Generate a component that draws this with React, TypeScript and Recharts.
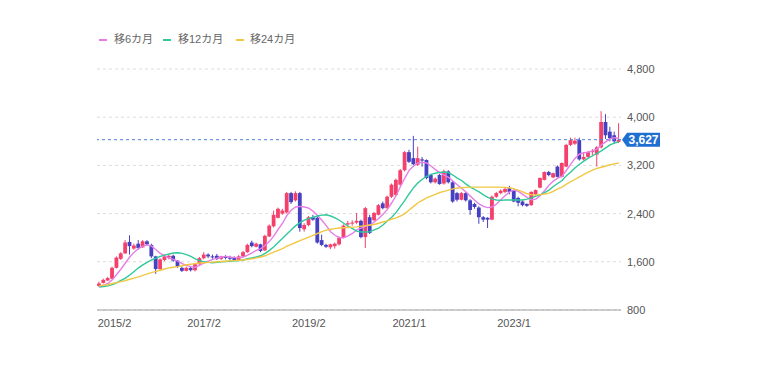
import React from 'react';
import { ComposedChart, Bar, Line, XAxis, YAxis, CartesianGrid, ReferenceLine } from 'recharts';

const startYear = 2015;
const startMonth = 2;

const opens = [
  1200,1250,1290,1320,1500,1650,1740,1930,1820,1900,1840,1940,1880,1690,1480,1630,1670,1700,1620,1500,1450,1500,1460,1560,
  1660,1720,1690,1700,1650,1680,1670,1670,1630,1690,1760,1920,1850,1890,1790,2020,2190,2330,2400,2420,2740,2620,2740,2140,2210,2340,
  2330,1960,1880,1840,1860,1890,2000,2220,2240,2250,2280,2010,2340,2290,2380,2570,2490,2680,2710,2880,
  3120,3420,3320,3210,3300,3290,3040,2920,3040,2900,
  3100,2920,2740,2630,2740,2620,2560,2500,2340,2330,
  2300,2680,2740,2760,2820,2780,2660,2600,2560,2540,
  2720,2830,2960,3090,3000,3180,3010,3180,3540,3560,
  3620,3300,3340,3420,3380,3500,3920,3760,3700,3590,
];
const highs = [
  1270,1320,1350,1520,1690,1760,1960,2040,1900,1960,1960,1960,1900,1700,1660,1720,1720,1720,1630,1520,1520,1530,1580,1680,
  1760,1740,1720,1730,1700,1710,1700,1690,1710,1780,1900,1950,1920,1900,2050,2220,2450,2500,2480,2760,2760,2770,2760,2240,2360,2380,
  2350,2050,1900,1900,1920,2020,2220,2280,2290,2410,2300,2510,2380,2430,2560,2600,2700,2900,2980,3140,
  3440,3460,3690,3510,3340,3300,3060,3000,3060,3130,
  3120,2940,2760,2760,2760,2640,2580,2520,2360,2340,
  2700,2760,2800,2830,2860,2800,2680,2620,2570,2770,
  2800,3000,3100,3110,3080,3200,3250,3560,3660,3660,
  3660,3420,3440,3470,3520,4100,4050,3840,3760,3900,
];
const lows = [
  1180,1240,1280,1310,1490,1630,1730,1720,1800,1800,1830,1870,1660,1400,1460,1610,1640,1600,1500,1430,1440,1440,1440,1550,
  1640,1660,1650,1630,1630,1640,1630,1610,1610,1680,1750,1840,1840,1760,1780,2010,2170,2320,2380,2400,2560,2600,2100,2100,2190,2280,
  1900,1860,1830,1810,1820,1870,1990,2190,2200,2230,1990,1830,2060,2270,2370,2470,2480,2660,2690,2860,
  3100,3240,3200,3190,3180,2970,2900,2900,2880,2880,
  2900,2580,2600,2620,2600,2380,2480,2230,2260,2160,
  2290,2660,2720,2740,2720,2590,2520,2520,2510,2530,
  2700,2820,2950,3020,2990,3000,3000,3170,3520,3540,
  3280,3280,3330,3360,3180,3480,3640,3600,3560,3570,
];
const closes = [
  1240,1300,1330,1500,1670,1740,1920,1860,1870,1830,1940,1890,1690,1480,1640,1690,1700,1620,1520,1450,1500,1460,1560,1660,
  1720,1690,1680,1650,1690,1670,1650,1630,1690,1760,1880,1860,1900,1780,2030,2200,2380,2480,2450,2740,2590,2740,2160,2210,2340,2300,
  1920,1880,1850,1890,1900,2000,2200,2240,2250,2280,2010,2490,2080,2410,2540,2490,2680,2880,2960,3120,
  3420,3260,3220,3320,3280,2990,2920,2980,2890,3100,
  2920,2600,2630,2740,2620,2460,2510,2340,2300,2300,
  2680,2740,2780,2810,2760,2600,2580,2540,2530,2760,
  2790,2990,3090,3040,3070,3010,3240,3540,3620,3610,
  3300,3340,3420,3440,3500,3920,3700,3650,3600,3627,
];

const ma6 = [
  1190,1210,1240,1300,1390,1480,1580,1680,1760,1820,1860,1880,1860,1800,1740,1700,1660,1640,1610,1570,1540,1520,1510,1540,
  1580,1610,1640,1660,1680,1690,1680,1670,1670,1680,1710,1750,1790,1820,1870,1940,2030,2140,2240,2370,2460,2510,2520,2510,2490,2440,
  2370,2290,2200,2100,2040,2000,2000,2030,2070,2130,2160,2190,2210,2260,2320,2390,2470,2580,2700,2850,
  2990,3120,3190,3240,3250,3240,3190,3130,3080,3040,
  3000,2940,2880,2820,2760,2690,2620,2560,2520,2500,
  2510,2560,2630,2700,2760,2790,2770,2720,2670,2630,
  2640,2700,2780,2870,2940,2990,3020,3120,3220,3320,
  3390,3410,3420,3440,3470,3540,3590,3640,3660,3650,
];
const ma12 = [
  1180,1190,1200,1220,1250,1290,1330,1380,1440,1500,1550,1590,1630,1660,1690,1710,1730,1745,1750,1740,1720,1690,1650,1620,
  1600,1590,1585,1590,1600,1605,1610,1615,1620,1630,1650,1665,1680,1700,1740,1790,1850,1920,1990,2060,2130,2200,2250,2290,2320,2340,
  2360,2375,2380,2360,2330,2290,2240,2190,2150,2110,2095,2095,2100,2130,2160,2210,2280,2340,2420,2520,
  2620,2730,2830,2910,2970,3020,3050,3070,3085,3090,
  3080,3040,2990,2950,2890,2840,2800,2760,2710,2670,
  2640,2625,2620,2625,2625,2625,2625,2625,2640,2660,
  2690,2710,2750,2790,2850,2900,2950,3030,3090,3160,
  3220,3270,3320,3360,3400,3440,3490,3540,3570,3590,
];
const ma24 = [
  1200,1210,1220,1240,1255,1270,1290,1310,1330,1350,1375,1400,1420,1440,1460,1480,1500,1510,1520,1535,1550,1560,1570,1580,
  1585,1590,1595,1600,1605,1610,1615,1620,1625,1630,1640,1650,1665,1680,1700,1730,1760,1790,1820,1860,1890,1920,1950,1980,2010,2040,
  2070,2100,2125,2140,2150,2160,2165,2170,2175,2180,2190,2200,2210,2220,2240,2260,2280,2310,2330,2360,
  2400,2460,2520,2580,2620,2660,2690,2720,2750,2770,
  2790,2810,2825,2830,2835,2840,2840,2840,2840,2840,
  2840,2840,2840,2835,2830,2810,2790,2760,2730,2710,
  2710,2715,2725,2740,2770,2810,2840,2890,2930,2970,
  3010,3050,3090,3120,3150,3170,3190,3210,3225,3240,
];

const xTickLabels = ['2015/2', '2017/2', '2019/2', '2021/1', '2023/1'];
const yTicks = [800, 1600, 2400, 3200, 4000, 4800];
const lastPrice = 3627;
const seriesNames = ['移6カ月', '移12カ月', '移24カ月'];

const UP = '#f4406a';
const DOWN = '#4640c2';
const MA_COLORS = ['#e57ee6', '#2fc99a', '#f2c744'];
const FONT = '"Liberation Sans", "Noto Sans CJK JP", Arial, sans-serif';

const months = opens.map((_, i) => {
  const m = startMonth - 1 + i;
  return `${startYear + Math.floor(m / 12)}/${(m % 12) + 1}`;
});

const data = months.map((month, i) => ({
  month,
  open: opens[i],
  high: highs[i],
  low: lows[i],
  close: closes[i],
  range: [lows[i], highs[i]],
  ma6: ma6[i],
  ma12: ma12[i],
  ma24: ma24[i],
}));

const Candle = (props: any) => {
  const { x, y, width, height, payload } = props;
  if (!payload || x == null) return <g />;
  const { open, close, high, low } = payload;
  const color = close >= open ? UP : DOWN;
  const top0 = Math.min(y, y + height);
  const h = Math.abs(height);
  const ratio = high === low ? 0 : h / (high - low);
  const cx = x + width / 2;
  const bTop = top0 + (high - Math.max(open, close)) * ratio;
  const bBot = top0 + (high - Math.min(open, close)) * ratio;
  const bw = 3.8;
  return (
    <g>
      <line x1={cx} x2={cx} y1={top0} y2={top0 + h} stroke={color} strokeWidth={1} />
      <rect x={cx - bw / 2} y={bTop} width={bw} height={Math.max(1, bBot - bTop)} fill={color} />
    </g>
  );
};

const XTick = (props: any) => {
  const { x, y, payload } = props;
  if (!payload || !xTickLabels.includes(payload.value)) return <g />;
  const first = payload.value === xTickLabels[0];
  return (
    <text x={first ? x - 1.5 : x} y={y} dy="0.71em" textAnchor={first ? 'start' : 'middle'} fontSize={11} fill="#555" fontFamily={FONT}>
      {payload.value}
    </text>
  );
};

const PriceTag = (props: any) => {
  const vb = props.viewBox || {};
  const x0 = vb.x + vb.width + 1;
  const yc = vb.y;
  const w = 38;
  const hh = 7;
  return (
    <g>
      <polygon
        points={`${x0},${yc} ${x0 + 5},${yc - hh} ${x0 + w},${yc - hh} ${x0 + w},${yc + hh} ${x0 + 5},${yc + hh}`}
        fill="#1f6fd1"
      />
      <text x={x0 + 5 + (w - 5) / 2} y={yc + 4} textAnchor="middle" fontSize={12} fontWeight={600} fill="#fff" fontFamily={FONT}>
        {lastPrice.toLocaleString('en-US')}
      </text>
    </g>
  );
};

const legendPos = [
  { marker: 99, text: 114 },
  { marker: 163, text: 178 },
  { marker: 236, text: 250 },
];

export default function App() {
  return (
    <div style={{ position: 'absolute', left: 0, top: 0, width: 760, height: 366, background: '#fff', fontFamily: FONT }}>
      {seriesNames.map((name, i) => (
        <React.Fragment key={name}>
          <div style={{ position: 'absolute', left: legendPos[i].marker, top: 39, width: 8, height: 2, background: MA_COLORS[i] }} />
          <div style={{ position: 'absolute', left: legendPos[i].text, top: 32, fontSize: 11, lineHeight: '14px', color: '#666', whiteSpace: 'nowrap' }}>
            {name}
          </div>
        </React.Fragment>
      ))}
      <ComposedChart width={760} height={366} data={data} margin={{ top: 69, right: 89, left: 97, bottom: 26 }}>
        <CartesianGrid horizontal vertical={false} stroke="#dcdcdc" strokeDasharray="3 3" />
        <XAxis
          dataKey="month"
          interval={0}
          tick={<XTick />}
          tickLine={false}
          axisLine={{ stroke: '#a0a0a0', strokeWidth: 1.2 }}
          height={30}
          tickMargin={3}
        />
        <YAxis
          orientation="right"
          domain={[800, 4800]}
          ticks={yTicks}
          width={50}
          axisLine={false}
          tickLine={false}
          tickMargin={0}
          tick={{ fontSize: 11, fill: '#555', fontFamily: FONT }}
          tickFormatter={(v: number) => v.toLocaleString('en-US')}
          allowDataOverflow
        />
        <ReferenceLine y={lastPrice} stroke="#4f80d6" strokeDasharray="3 3" label={<PriceTag />} ifOverflow="extendDomain" />
        <Bar dataKey="range" shape={<Candle />} isAnimationActive={false} />
        <Line dataKey="ma6" stroke={MA_COLORS[0]} strokeWidth={1.4} dot={false} isAnimationActive={false} />
        <Line dataKey="ma12" stroke={MA_COLORS[1]} strokeWidth={1.4} dot={false} isAnimationActive={false} />
        <Line dataKey="ma24" stroke={MA_COLORS[2]} strokeWidth={1.4} dot={false} isAnimationActive={false} />
      </ComposedChart>
    </div>
  );
}
